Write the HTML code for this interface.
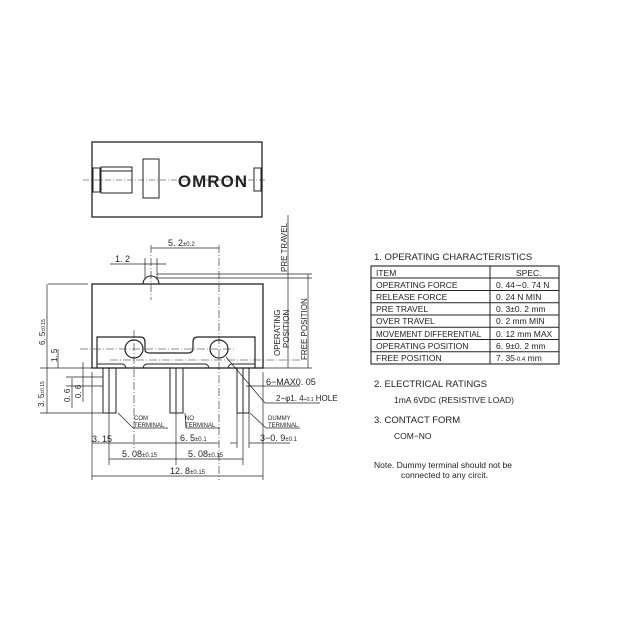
<!DOCTYPE html>
<html><head><style>
html,body{margin:0;padding:0;background:#fff;}
svg text{font-family:"Liberation Sans",sans-serif;fill:#222;}
</style></head><body>
<svg width="626" height="626" viewBox="0 0 626 626" xmlns="http://www.w3.org/2000/svg">
<g stroke="#222" fill="none" stroke-width="1">
<rect x="92" y="142" width="170" height="75" stroke-width="1.3"/>
<rect x="93" y="168" width="7" height="24"/>
<rect x="101" y="167" width="31" height="26"/>
<line x1="101" y1="171" x2="132" y2="171"/>
<rect x="143" y="159" width="16" height="39"/>
<rect x="254" y="168" width="7" height="23"/>
<line x1="83" y1="180" x2="267" y2="180" stroke-dasharray="6,2,1,2" stroke-width="0.6"/>
<rect x="92" y="284" width="171" height="84" stroke-width="1.3"/>
<path d="M97 368 V337 H140 Q145 337 145 342 V350 Q145 353 150 353 H188 Q193 353 193 348 V342 Q193 337 198 337 H255 V368" stroke-width="1.2"/>
<path d="M97 364 H122 Q125 364 126 368 M143 368 Q144 364 147 364 H205 Q208 364 209 368 M228 368 Q229 364 232 364 H255" stroke-width="1"/>
<circle cx="134" cy="349" r="9" stroke-width="1.2"/>
<circle cx="219" cy="349" r="9" stroke-width="1.2"/>
<path d="M143 284 A8 8 0 0 1 159 284" stroke-width="1.1"/>
<rect x="103" y="368" width="13" height="45"/><line x1="109" y1="368" x2="109" y2="413"/>
<rect x="170" y="368" width="13" height="45"/><line x1="176" y1="368" x2="176" y2="413"/>
<rect x="237" y="368" width="12" height="45"/><line x1="243" y1="368" x2="243" y2="413"/>
<g stroke-dasharray="8,2,1,2" stroke-width="0.6">
<line x1="151" y1="245" x2="151" y2="300"/>
<line x1="219" y1="245" x2="219" y2="480"/>
<line x1="134" y1="330" x2="134" y2="448"/>
<line x1="110" y1="360" x2="300" y2="360"/>
<line x1="80" y1="349" x2="235" y2="349"/>
</g>
<g stroke-width="0.7">
<line x1="151" y1="248" x2="219" y2="248"/>
<line x1="110" y1="264" x2="166" y2="264"/>
<line x1="145" y1="258" x2="145" y2="278"/><line x1="157" y1="258" x2="157" y2="278"/>
<line x1="157" y1="274" x2="312" y2="274"/>
<line x1="157" y1="278" x2="312" y2="278"/>
<line x1="263" y1="368" x2="312" y2="368"/>
<line x1="288" y1="215" x2="288" y2="368"/>
<line x1="308" y1="274" x2="308" y2="368"/>
<line x1="48" y1="284" x2="88" y2="284"/>
<line x1="47" y1="284" x2="47" y2="413"/>
<line x1="40" y1="368" x2="92" y2="368"/>
<line x1="40" y1="413" x2="104" y2="413"/>
<line x1="58" y1="349" x2="58" y2="368"/>
<line x1="72" y1="378" x2="72" y2="408"/>
<line x1="83" y1="362" x2="83" y2="402"/>
<line x1="66" y1="377" x2="103" y2="377"/>
<line x1="66" y1="386" x2="103" y2="386"/>
<line x1="92" y1="372" x2="92" y2="480"/>
<line x1="263" y1="372" x2="263" y2="480"/>
<line x1="109" y1="413" x2="109" y2="465"/>
<line x1="176" y1="413" x2="176" y2="465"/>
<line x1="243" y1="413" x2="243" y2="465"/>
<line x1="237" y1="413" x2="237" y2="448"/><line x1="249" y1="413" x2="249" y2="448"/>
<line x1="92" y1="443" x2="219" y2="443"/>
<line x1="230" y1="443" x2="237" y2="443"/><line x1="249" y1="443" x2="290" y2="443"/>
<line x1="109" y1="459" x2="243" y2="459"/>
<line x1="92" y1="476" x2="263" y2="476"/>
<line x1="246" y1="386" x2="300" y2="386"/>
<line x1="226" y1="357" x2="265" y2="403"/><line x1="265" y1="403" x2="320" y2="403"/>
<line x1="118" y1="413" x2="133" y2="428"/><line x1="133" y1="428" x2="168" y2="428"/>
<line x1="185" y1="413" x2="186" y2="428"/><line x1="186" y1="428" x2="220" y2="428"/>
<line x1="250" y1="413" x2="266" y2="428"/><line x1="266" y1="428" x2="300" y2="428"/>
</g>
<rect x="371" y="266" width="188" height="98" stroke-width="1.1"/>
<line x1="490" y1="266" x2="490" y2="364"/>
<line x1="371" y1="278" x2="559" y2="278"/>
<line x1="371" y1="290.5" x2="559" y2="290.5"/>
<line x1="371" y1="302.7" x2="559" y2="302.7"/>
<line x1="371" y1="315" x2="559" y2="315"/>
<line x1="371" y1="327.3" x2="559" y2="327.3"/>
<line x1="371" y1="339.5" x2="559" y2="339.5"/>
<line x1="371" y1="351.8" x2="559" y2="351.8"/>
</g>
<g font-size="10">
<text x="213" y="187" font-size="17" font-weight="bold" text-anchor="middle" style="letter-spacing:1px">OMRON</text>
<text x="168" y="246" font-size="9">5. 2<tspan font-size="6">±0.2</tspan></text>
<text x="115" y="262" font-size="9">1. 2</text>
<text x="92" y="442" font-size="9">3. 15</text>
<text x="180" y="441" font-size="9">6. 5<tspan font-size="6">±0.1</tspan></text>
<text x="260" y="441" font-size="9">3−0. 9<tspan font-size="6">±0.1</tspan></text>
<text x="122" y="457" font-size="9">5. 08<tspan font-size="6">±0.15</tspan></text>
<text x="188" y="457" font-size="9">5. 08<tspan font-size="6">±0.15</tspan></text>
<text x="170" y="474" font-size="9">12. 8<tspan font-size="6">±0.15</tspan></text>
<text x="266" y="385" font-size="9">6−MAX0. 05</text>
<text x="276" y="401" font-size="8">2−φ1. 4<tspan font-size="5">+0.1</tspan> HOLE</text>
<text x="134" y="420" font-size="6">COM</text><text x="134" y="427" font-size="6">TERMINAL</text>
<text x="185" y="420" font-size="6">NO</text><text x="185" y="427" font-size="6">TERMINAL</text>
<text x="268" y="420" font-size="6">DUMMY</text><text x="268" y="427" font-size="6">TERMINAL</text>
<text transform="translate(287,272) rotate(-90)" font-size="8">PRE TRAVEL</text>
<text transform="translate(280,356) rotate(-90)" font-size="8">OPERATING</text>
<text transform="translate(289,348) rotate(-90)" font-size="8">POSITION</text>
<text transform="translate(307,360) rotate(-90)" font-size="8">FREE POSITION</text>
<text transform="translate(45,345) rotate(-90)" font-size="8">6. 5<tspan font-size="5">±0.15</tspan></text>
<text transform="translate(57,362) rotate(-90)" font-size="8">1. 5</text>
<text transform="translate(44,407) rotate(-90)" font-size="8">3. 5<tspan font-size="5">±0.15</tspan></text>
<text transform="translate(70,402) rotate(-90)" font-size="8">0. 6</text>
<text transform="translate(81,398) rotate(-90)" font-size="8">0. 6</text>
<g font-size="8.5">
<text x="374" y="260" font-size="9.5">1. OPERATING CHARACTERISTICS</text>
<text x="376" y="276">ITEM</text><text x="516" y="276">SPEC.</text>
<text x="376" y="288">OPERATING FORCE</text><text x="496" y="288">0. 44∼0. 74 N</text>
<text x="376" y="300">RELEASE FORCE</text><text x="496" y="300">0. 24 N  MIN</text>
<text x="376" y="312">PRE TRAVEL</text><text x="496" y="312">0. 3±0. 2 mm</text>
<text x="376" y="324">OVER TRAVEL</text><text x="496" y="324">0. 2 mm  MIN</text>
<text x="376" y="337" font-size="8">MOVEMENT DIFFERENTIAL</text><text x="496" y="337">0. 12 mm MAX</text>
<text x="376" y="349">OPERATING POSITION</text><text x="496" y="349">6. 9±0. 2 mm</text>
<text x="376" y="361">FREE POSITION</text><text x="496" y="361">7. 35<tspan font-size="6">-0.4</tspan> mm</text>
<text x="374" y="387" font-size="9.5">2. ELECTRICAL RATINGS</text>
<text x="394" y="403">1mA 6VDC (RESISTIVE LOAD)</text>
<text x="374" y="423" font-size="9.5">3. CONTACT FORM</text>
<text x="394" y="439">COM−NO</text>
<text x="374" y="468">Note. Dummy terminal should not be</text>
<text x="401" y="478">connected to any circit.</text>
</g>
</g>
</svg>
</body></html>
